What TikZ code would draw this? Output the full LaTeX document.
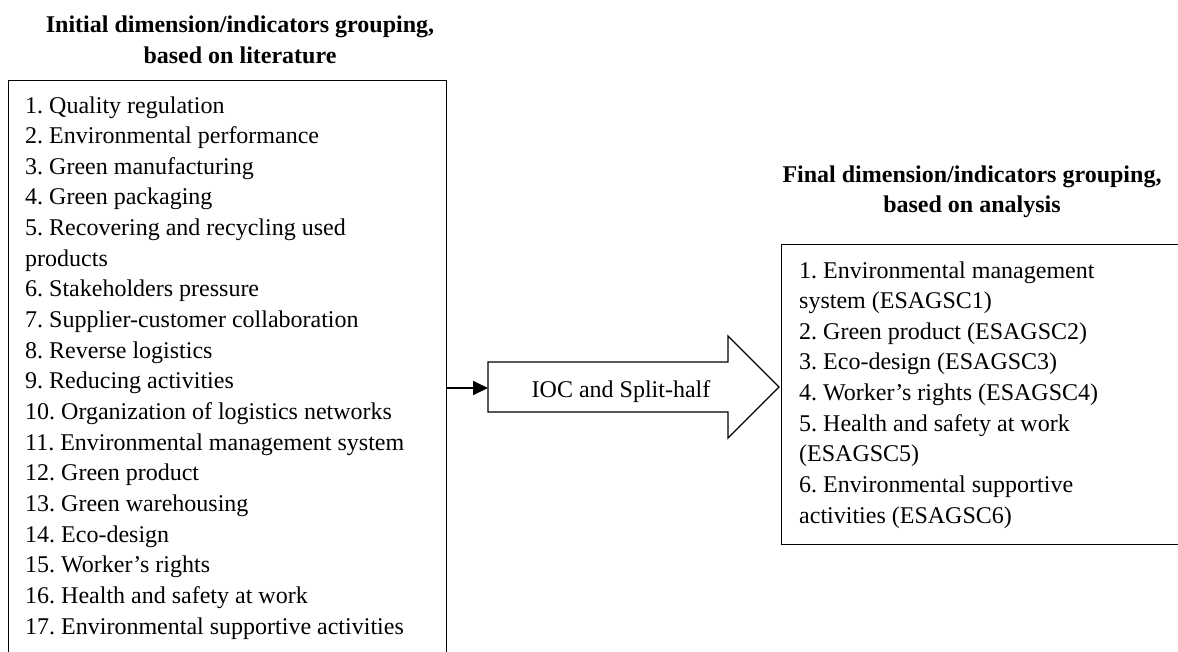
\documentclass[tikz,border=0pt]{standalone}
\usepackage{fontspec}
\setmainfont{Liberation Serif}
\usetikzlibrary{arrows.meta}
\frenchspacing
\begin{document}
\begin{tikzpicture}[x=1pt,y=-1pt,
  box/.style={draw=black,line width=1.3pt},
  item/.style={anchor=base west,inner sep=0pt,font=\fontsize{24}{28}\selectfont\frenchspacing},
  ttl/.style={anchor=base,inner sep=0pt,font=\fontsize{24}{28}\selectfont\bfseries\frenchspacing},
  conn/.style={line width=2pt,-{Triangle[length=15pt,width=14pt]}}]
\useasboundingbox (0,0) rectangle (1178,651);
% titles
\node[ttl] (t1a) at (240,32) {Initial dimension/indicators grouping,};
\node[ttl] (t1b) at (240,63) {based on literature};
\node[ttl] (t2a) at (972,182) {Final dimension/indicators grouping,};
\node[ttl] (t2b) at (972,212) {based on analysis};
% boxes
\node[box,anchor=north west,minimum width=438pt,minimum height=600pt,inner sep=0pt] (L) at (8,80) {};
\node[box,anchor=north west,minimum width=430pt,minimum height=300pt,inner sep=0pt] (R) at (781,244) {};
% left items
\foreach \t [count=\i] in {1. Quality regulation,2. Environmental performance,3. Green manufacturing,4. Green packaging,5. Recovering and recycling used,products,6. Stakeholders pressure,7. Supplier-customer collaboration,8. Reverse logistics,9. Reducing activities,10. Organization of logistics networks,11. Environmental management system,12. Green product,13. Green warehousing,14. Eco-design,15. Worker’s rights,16. Health and safety at work,17. Environmental supportive activities}
  \node[item] (l\i) at (25,{113+30.65*(\i-1)}) {\t};
% right items
\foreach \t [count=\i] in {1. Environmental management,system (ESAGSC1),2. Green product (ESAGSC2),3. Eco-design (ESAGSC3),4. Worker’s rights (ESAGSC4),5. Health and safety at work,(ESAGSC5),6. Environmental supportive,activities (ESAGSC6)}
  \node[item] (r\i) at (799,{278+30.65*(\i-1)}) {\t};
% block arrow
\draw[box,fill=white] (488,362) -- (728,362) -- (728,336) -- (779,387) -- (728,438) -- (728,412) -- (488,412) -- cycle;
\coordinate (tail) at (488,388);
\node[item,anchor=base] (ioc) at (621,397) {IOC and Split-half};
\draw[conn] (L.east |- tail) -- (tail);
\end{tikzpicture}
\end{document}
